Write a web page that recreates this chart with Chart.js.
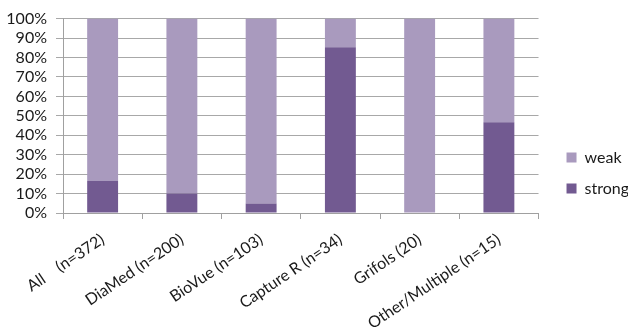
<!DOCTYPE html>
<html>
<head>
<meta charset="utf-8">
<script src="https://cdn.jsdelivr.net/npm/chart.js@4/dist/chart.umd.min.js"></script>
<style>
html,body{margin:0;padding:0;background:#fff;}
#wrap{width:628px;height:332px;}
</style>
</head>
<body>
<div id="wrap"><canvas id="c" width="628" height="332"></canvas></div>
<script>
const categories = ["All    (n=372)", "DiaMed (n=200)", "BioVue (n=103)", "Capture R (n=34)", "Grifols (20)", "Other/Multiple (n=15)"];
const strongValues = [16.4, 10, 4.9, 85.3, 0, 46.7];
const weakValues = [83.6, 90, 95.1, 14.7, 100, 53.3];
const yTicks = [0, 10, 20, 30, 40, 50, 60, 70, 80, 90, 100];

const FONT = "Lato, 'Open Sans', sans-serif";
const shiftLegend = {
  id: 'shiftLegend',
  afterLayout(chart) {
    const lg = chart.legend;
    if (lg) { lg.left += 13; lg.right += 13; lg.top -= 2; lg.bottom -= 2; }
  }
};
const ctx = document.getElementById('c');
new Chart(ctx, {
  type: 'bar',
  data: {
    labels: categories,
    datasets: [
      { label: 'strong', data: strongValues, backgroundColor: '#725A91', borderWidth: 0 },
      { label: 'weak', data: weakValues, backgroundColor: '#A99ABE', borderWidth: 0 }
    ]
  },
  plugins: [shiftLegend],
  options: {
    responsive: false,
    animation: false,
    devicePixelRatio: 1,
    layout: { padding: { top: 18, left: 4, right: 2, bottom: 0 } },
    datasets: { bar: { barPercentage: 0.39, categoryPercentage: 1 } },
    plugins: {
      tooltip: { enabled: false },
      legend: {
        position: 'right',
        reverse: true,
        labels: {
          boxWidth: 10, boxHeight: 10, padding: 15,
          color: '#1a1a1a', font: { family: FONT, size: 16 }
        }
      }
    },
    scales: {
      x: {
        stacked: true,
        grid: { drawOnChartArea: false, color: '#a0a0a0', tickLength: 6, offset: true },
        border: { color: '#a0a0a0' },
        ticks: { color: '#1a1a1a', font: { family: FONT, size: 16 }, minRotation: 34, maxRotation: 34, padding: 11, autoSkip: false },
        afterFit: s => { s.height = 119; }
      },
      y: {
        stacked: true,
        min: 0, max: 100,
        afterBuildTicks: s => { s.ticks = yTicks.map(v => ({ value: v })); },
        grid: { color: '#a8a8a8', tickLength: 7 },
        border: { color: '#a0a0a0' },
        ticks: { color: '#1a1a1a', font: { family: FONT, size: 16 }, padding: 9, autoSkip: false, callback: v => v + '%' },
        afterFit: s => { s.width = 59; }
      }
    }
  }
});
</script>
</body>
</html>
